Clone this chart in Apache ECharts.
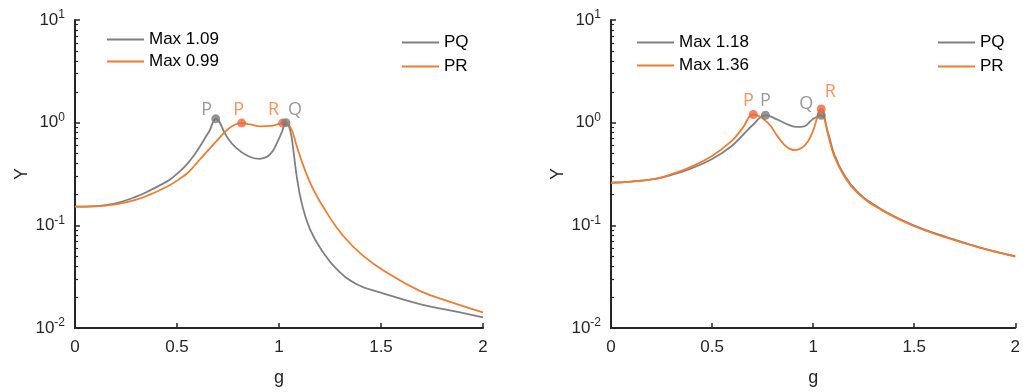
<!DOCTYPE html>
<html><head><meta charset="utf-8">
<script src="https://cdn.jsdelivr.net/npm/echarts@6/dist/echarts.min.js"></script>
<style>html,body{margin:0;padding:0;background:#fff}#c{width:1023px;height:392px}</style>
</head><body><div id="c"></div><script>
// ---------- data ----------
const leftPQ_g = [0, 0.1, 0.2, 0.3, 0.37, 0.42, 0.466, 0.52, 0.547, 0.58, 0.613, 0.64, 0.66, 0.69, 0.743, 0.79, 0.85, 0.904, 0.956, 0.997, 1.015, 1.034, 1.054, 1.07, 1.087, 1.111, 1.152, 1.217, 1.283, 1.381, 1.495, 1.69, 1.85, 2.0];
const leftPQ_y = [0.152, 0.154, 0.164, 0.19, 0.22, 0.248, 0.28, 0.345, 0.39, 0.47, 0.59, 0.72, 0.84, 1.09, 0.736, 0.568, 0.471, 0.444, 0.49, 0.68, 0.82, 1.0, 0.855, 0.547, 0.30, 0.166, 0.0914, 0.0543, 0.0374, 0.0267, 0.0222, 0.0171, 0.0147, 0.0127];
const leftPR_g = [0, 0.1, 0.2, 0.3, 0.37, 0.42, 0.466, 0.52, 0.547, 0.58, 0.613, 0.65, 0.69, 0.743, 0.78, 0.817, 0.86, 0.907, 0.96, 1.0, 1.018, 1.054, 1.087, 1.12, 1.168, 1.234, 1.315, 1.413, 1.528, 1.69, 1.85, 2.0];
const leftPR_y = [0.152, 0.153, 0.16, 0.178, 0.2, 0.222, 0.247, 0.29, 0.318, 0.37, 0.44, 0.53, 0.65, 0.84, 0.95, 0.99, 0.96, 0.92, 0.93, 0.97, 0.99, 0.92, 0.589, 0.377, 0.224, 0.133, 0.0787, 0.0504, 0.0347, 0.023, 0.0177, 0.0142];
const rightPQ_g = [0, 0.1, 0.22, 0.3, 0.384, 0.498, 0.596, 0.65, 0.704, 0.764, 0.824, 0.88, 0.92, 0.955, 0.995, 1.04, 1.072, 1.105, 1.154, 1.219, 1.333, 1.497, 1.66, 1.823, 2.0];
const rightPQ_y = [0.26, 0.267, 0.284, 0.31, 0.35, 0.44, 0.59, 0.75, 0.96, 1.18, 1.07, 0.95, 0.908, 0.92, 1.07, 1.18, 0.82, 0.49, 0.31, 0.212, 0.145, 0.1, 0.077, 0.061, 0.05];
const rightPR_g = [0, 0.1, 0.22, 0.3, 0.384, 0.498, 0.596, 0.65, 0.704, 0.775, 0.824, 0.865, 0.906, 0.955, 0.995, 1.04, 1.072, 1.105, 1.154, 1.219, 1.333, 1.497, 1.66, 1.823, 2.0];
const rightPR_y = [0.26, 0.267, 0.284, 0.315, 0.363, 0.471, 0.66, 0.88, 1.2, 1.0, 0.736, 0.59, 0.54, 0.59, 0.79, 1.36, 0.79, 0.47, 0.30, 0.207, 0.143, 0.0986, 0.0759, 0.0607, 0.0496];
// markers
const leftMarkSeries = ['PQ', 'PR', 'PR', 'PQ'];
const leftMarkLabel = ['P', 'P', 'R', 'Q'];
const leftMarkG = [0.69, 0.817, 1.018, 1.034];
const leftMarkY = [1.09, 0.99, 0.99, 1.0];
const rightMarkSeries = ['PQ', 'PQ', 'PR', 'PR'];
const rightMarkLabel = ['P', 'Q', 'P', 'R'];
const rightMarkG = [0.764, 1.04, 0.704, 1.04];
const rightMarkY = [1.18, 1.18, 1.2, 1.36];
const legendMaxLeft = ['Max 1.09', 'Max 0.99'];
const legendMaxRight = ['Max 1.18', 'Max 1.36'];
const legendPair = ['PQ', 'PR'];
const yMinorTicks = [0.02,0.03,0.04,0.05,0.06,0.07,0.08,0.09,0.2,0.3,0.4,0.5,0.6,0.7,0.8,0.9,2,3,4,5,6,7,8,9];

// ---------- styles ----------
const GRAY = '#808080', ORANGE = '#ED7D31';
const MK = {PQ: '#7a7a7a', PR: '#F0673A'};
const LB = {PQ: '#7f7f7f', PR: '#EE7A33'};
const AX = '#262626';
const FONT = 'Liberation Sans, Arial, sans-serif';
const leftOffsets = [[-9,-9],[-3,-13],[-9,-13],[9,-13]];
const rightOffsets = [[0,-14],[-15,-11],[-5,-14],[9,-17]];
const LEGEND_ICON = 'path://M0,0 M0,7.6 L37,7.6 L37,9.4 L0,9.4 Z M37,17';

const zip = (g, y) => g.map((v, i) => [v, y[i]]);

function xAxis(gi) {
  return {type: 'value', gridIndex: gi, min: 0, max: 2, interval: 0.5,
    name: 'g', nameLocation: 'middle', nameGap: 41,
    nameTextStyle: {fontSize: 18, color: AX, fontFamily: FONT},
    axisLine: {show: true, onZero: false, lineStyle: {color: AX, width: 2}},
    axisTick: {show: true, inside: true, length: 5, lineStyle: {color: AX, width: 1.5}},
    axisLabel: {fontSize: 17, color: AX, fontFamily: FONT, margin: 11},
    splitLine: {show: false}};
}
function yAxis(gi) {
  return {type: 'log', logBase: 10, gridIndex: gi, min: 0.01, max: 10,
    name: 'Y', nameLocation: 'middle', nameGap: 43, nameRotate: 90,
    nameTextStyle: {fontSize: 18, color: AX, fontFamily: FONT},
    axisLine: {show: true, lineStyle: {color: AX, width: 2}},
    axisTick: {show: true, inside: true, length: 5, lineStyle: {color: AX, width: 1.5}},
    axisLabel: {margin: 10, fontFamily: FONT, color: AX,
      formatter: v => '{b|10}{s|' + Math.round(Math.log10(v)) + '}',
      rich: {b: {fontSize: 17, color: AX, fontFamily: FONT},
             s: {fontSize: 12, color: AX, fontFamily: FONT, padding: [0, 0, 10, 0]}}},
    splitLine: {show: false}};
}
function yMinor(gi) {
  return {type: 'log', logBase: 10, gridIndex: gi, min: 0.01, max: 10, position: 'left',
    axisLine: {show: false}, axisLabel: {show: false}, splitLine: {show: false},
    axisTick: {show: true, inside: true, length: 3, customValues: yMinorTicks,
      lineStyle: {color: AX, width: 1.2}}};
}
function line(name, data, color, xi, yi) {
  return {type: 'line', name, data, xAxisIndex: xi, yAxisIndex: yi,
    symbol: 'none', smooth: 0.45, lineStyle: {color, width: 1.8}, itemStyle: {color}, z: 2, silent: true};
}
function marks(series, labels, g, y, offs, xi, yi) {
  return {type: 'scatter', name: 'marks' + xi, xAxisIndex: xi, yAxisIndex: yi, symbolSize: 9, z: 5, silent: true,
    data: g.map((gv, i) => ({value: [gv, y[i]], name: labels[i],
      itemStyle: {color: MK[series[i]]},
      label: {show: true, position: 'inside', offset: offs[i], formatter: '{b}',
        color: LB[series[i]], fontSize: 18, fontFamily: 'Open Sans, Noto Sans, sans-serif'}}))};
}
function legend(data, left, top, gap) {
  return {data: data.map(n => ({name: n, icon: LEGEND_ICON})), left, top, orient: 'vertical', padding: 0,
    itemGap: gap, itemWidth: 37, itemHeight: 17, selectedMode: false,
    textStyle: {fontSize: 17, color: '#000', fontFamily: FONT, lineHeight: 17}};
}

const chart = echarts.init(document.getElementById('c'));
chart.setOption({
  animation: false,
  backgroundColor: '#fff',
  grid: [{left: 75, right: 540, top: 20, bottom: 63}, {left: 611, right: 4, top: 20, bottom: 63}],
  xAxis: [xAxis(0), xAxis(1)],
  yAxis: [yAxis(0), yAxis(1), yMinor(0), yMinor(1)],
  legend: [legend(legendMaxLeft, 107, 31, 5), legend(legendPair, 402, 34, 7),
           legend(legendMaxRight, 637, 34, 6), legend(legendPair, 938, 34, 7)],
  series: [
    line('Max 1.09', zip(leftPQ_g, leftPQ_y), GRAY, 0, 0),
    line('Max 0.99', zip(leftPR_g, leftPR_y), ORANGE, 0, 0),
    line('Max 1.18', zip(rightPQ_g, rightPQ_y), GRAY, 1, 1),
    line('Max 1.36', zip(rightPR_g, rightPR_y), ORANGE, 1, 1),
    line('PQ', [], GRAY, 0, 0),
    line('PR', [], ORANGE, 0, 0),
    marks(leftMarkSeries, leftMarkLabel, leftMarkG, leftMarkY, leftOffsets, 0, 0),
    marks(rightMarkSeries, rightMarkLabel, rightMarkG, rightMarkY, rightOffsets, 1, 1)
  ]
});
</script></body></html>
